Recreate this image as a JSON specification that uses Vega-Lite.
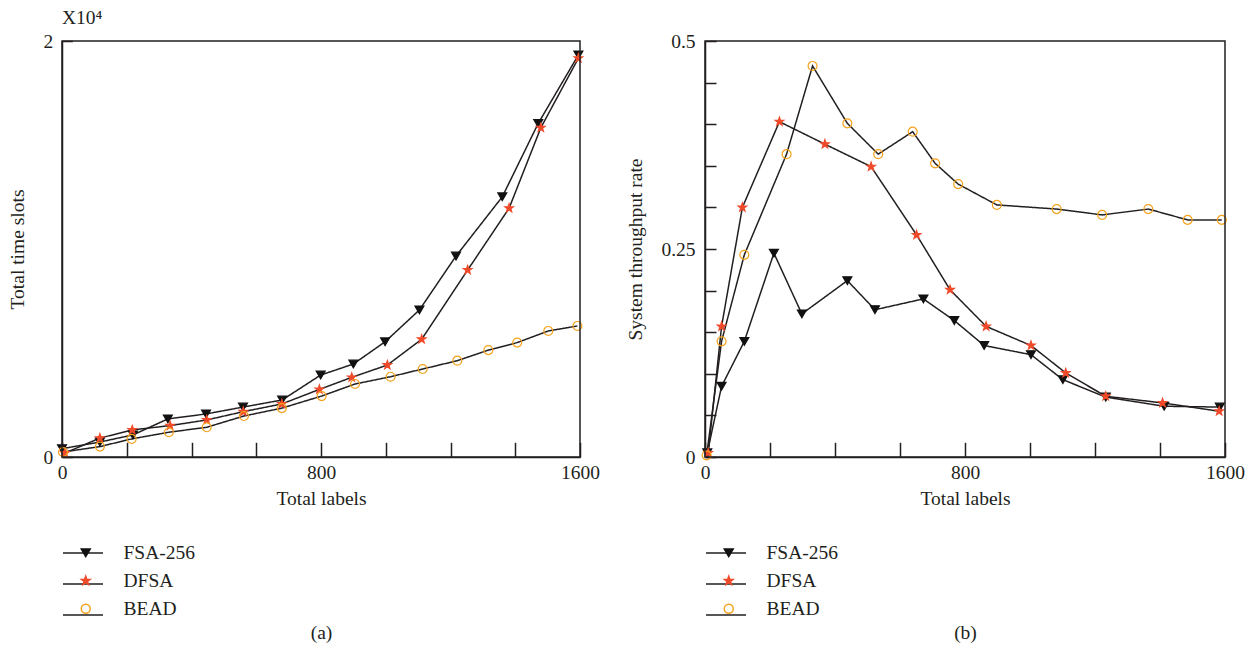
{
  "$schema": "https://vega.github.io/schema/vega-lite/v6.json",
  "autosize": {"type": "none"},
  "padding": {"left": 62, "top": 41, "right": 30, "bottom": 203},
  "width": 1163,
  "height": 416,
  "title": {"text": "X10⁴", "anchor": "start", "frame": "group", "offset": 3},
  "layer": [
    {
      "data": {"values": [
        {"series": "FSA-256", "labels": 0, "value": 0.04},
        {"series": "FSA-256", "labels": 117, "value": 0.072},
        {"series": "FSA-256", "labels": 219, "value": 0.106},
        {"series": "FSA-256", "labels": 327, "value": 0.183},
        {"series": "FSA-256", "labels": 445, "value": 0.207},
        {"series": "FSA-256", "labels": 559, "value": 0.24},
        {"series": "FSA-256", "labels": 680, "value": 0.274},
        {"series": "FSA-256", "labels": 799, "value": 0.394},
        {"series": "FSA-256", "labels": 900, "value": 0.447},
        {"series": "FSA-256", "labels": 998, "value": 0.554},
        {"series": "FSA-256", "labels": 1104, "value": 0.707},
        {"series": "FSA-256", "labels": 1217, "value": 0.966},
        {"series": "FSA-256", "labels": 1360, "value": 1.251},
        {"series": "FSA-256", "labels": 1471, "value": 1.604},
        {"series": "FSA-256", "labels": 1595, "value": 1.933},
        {"series": "DFSA", "labels": 9, "value": 0.019},
        {"series": "DFSA", "labels": 117, "value": 0.091},
        {"series": "DFSA", "labels": 217, "value": 0.13},
        {"series": "DFSA", "labels": 334, "value": 0.151},
        {"series": "DFSA", "labels": 447, "value": 0.178},
        {"series": "DFSA", "labels": 560, "value": 0.218},
        {"series": "DFSA", "labels": 679, "value": 0.255},
        {"series": "DFSA", "labels": 795, "value": 0.325},
        {"series": "DFSA", "labels": 895, "value": 0.383},
        {"series": "DFSA", "labels": 1005, "value": 0.442},
        {"series": "DFSA", "labels": 1111, "value": 0.566},
        {"series": "DFSA", "labels": 1253, "value": 0.899},
        {"series": "DFSA", "labels": 1381, "value": 1.196},
        {"series": "DFSA", "labels": 1479, "value": 1.583},
        {"series": "DFSA", "labels": 1595, "value": 1.917},
        {"series": "BEAD", "labels": 3, "value": 0.024},
        {"series": "BEAD", "labels": 117, "value": 0.05},
        {"series": "BEAD", "labels": 215, "value": 0.087},
        {"series": "BEAD", "labels": 330, "value": 0.119},
        {"series": "BEAD", "labels": 447, "value": 0.143},
        {"series": "BEAD", "labels": 562, "value": 0.197},
        {"series": "BEAD", "labels": 679, "value": 0.235},
        {"series": "BEAD", "labels": 802, "value": 0.293},
        {"series": "BEAD", "labels": 905, "value": 0.351},
        {"series": "BEAD", "labels": 1015, "value": 0.386},
        {"series": "BEAD", "labels": 1114, "value": 0.423},
        {"series": "BEAD", "labels": 1221, "value": 0.463},
        {"series": "BEAD", "labels": 1317, "value": 0.514},
        {"series": "BEAD", "labels": 1406, "value": 0.55},
        {"series": "BEAD", "labels": 1502, "value": 0.606},
        {"series": "BEAD", "labels": 1592, "value": 0.63}
      ]},
      "layer": [
        {
          "mark": {"type": "line", "color": "#231f20", "strokeWidth": 1.5},
          "encoding": {
            "x": {"field": "labels", "type": "quantitative", "scale": {"domain": [0, 1600], "nice": false, "range": [0, 518]},
              "axis": {"orient": "bottom", "values": [0, 200, 400, 600, 800, 1000, 1200, 1400, 1600], "format": "d",
                "labelExpr": "datum.value % 800 === 0 ? datum.label : ''",
                "tickSize": -14.7, "labelPadding": 20.7, "labelOverlap": false, "labelFlush": false,
                "title": ["Total labels", "(a)"], "titleLineHeight": 134, "titlePadding": 8}},
            "y": {"field": "value", "type": "quantitative", "scale": {"domain": [0, 2], "nice": false},
              "axis": {"orient": "left", "values": [0, 0.2, 0.4, 0.6, 0.8, 1, 1.2, 1.4, 1.6, 1.8, 2], "format": "d",
                "labelExpr": "datum.value % 1 === 0 ? datum.label : ''",
                "tickSize": -10.3, "labelPadding": 19.6, "labelOverlap": false, "labelFlush": false,
                "title": "Total time slots", "titlePadding": 15}},
            "strokeDash": {"field": "series", "type": "nominal",
              "sort": {"field": "value", "op": "max", "order": "descending"},
              "scale": {"range": [[1, 0], [1, 0], [1, 0]]},
              "legend": {"orient": "none", "legendX": 0, "legendY": 491, "title": null, "padding": 0,
                "symbolType": "stroke", "symbolSize": 1600, "symbolStrokeColor": "#231f20", "symbolStrokeWidth": 1.5,
                "labelExpr": "''", "rowPadding": -15, "zindex": 0}}
          }
        },
        {
          "mark": {"type": "point", "size": 80, "opacity": 1, "strokeWidth": 1.2},
          "encoding": {
            "x": {"field": "labels", "type": "quantitative"},
            "y": {"field": "value", "type": "quantitative"},
            "shape": {"field": "series", "type": "nominal",
              "scale": {"domain": ["FSA-256", "DFSA", "BEAD"], "range": ["triangle-down", "M0,-1L0.235,-0.324L0.951,-0.309L0.38,0.124L0.588,0.809L0,0.4L-0.588,0.809L-0.38,0.124L-0.951,-0.309L-0.235,-0.324Z", "circle"]},
              "legend": {"orient": "none", "legendX": 14, "legendY": 502, "title": null, "padding": 0, "symbolSize": 80, "labelOffset": 28, "rowPadding": 7, "zindex": 1}},
            "fill": {"field": "series", "type": "nominal",
              "scale": {"domain": ["FSA-256", "DFSA", "BEAD"], "range": ["#111111", "#ef4a2a", "transparent"]}},
            "stroke": {"field": "series", "type": "nominal",
              "scale": {"domain": ["FSA-256", "DFSA", "BEAD"], "range": ["#111111", "#ef4a2a", "#f5a21e"]}}
          }
        },
        {
          "data": {"values": [{}]},
          "mark": {"type": "rect", "filled": false, "color": "#231f20", "strokeWidth": 1.5},
          "encoding": {
            "x": {"datum": 0, "type": "quantitative"},
            "x2": {"datum": 1600},
            "y": {"datum": 0, "type": "quantitative"},
            "y2": {"datum": 2}
          }
        }
      ]
    },
    {
      "data": {"values": [
        {"series": "FSA-256", "labels": 7, "value": 0.005},
        {"series": "FSA-256", "labels": 51, "value": 0.085},
        {"series": "FSA-256", "labels": 121, "value": 0.139},
        {"series": "FSA-256", "labels": 212, "value": 0.245},
        {"series": "FSA-256", "labels": 298, "value": 0.172},
        {"series": "FSA-256", "labels": 438, "value": 0.212},
        {"series": "FSA-256", "labels": 523, "value": 0.177},
        {"series": "FSA-256", "labels": 672, "value": 0.19},
        {"series": "FSA-256", "labels": 767, "value": 0.164},
        {"series": "FSA-256", "labels": 859, "value": 0.134},
        {"series": "FSA-256", "labels": 1003, "value": 0.123},
        {"series": "FSA-256", "labels": 1101, "value": 0.093},
        {"series": "FSA-256", "labels": 1233, "value": 0.072},
        {"series": "FSA-256", "labels": 1413, "value": 0.061},
        {"series": "FSA-256", "labels": 1584, "value": 0.06},
        {"series": "DFSA", "labels": 10, "value": 0.005},
        {"series": "DFSA", "labels": 51, "value": 0.157},
        {"series": "DFSA", "labels": 115, "value": 0.3},
        {"series": "DFSA", "labels": 229, "value": 0.403},
        {"series": "DFSA", "labels": 369, "value": 0.376},
        {"series": "DFSA", "labels": 511, "value": 0.349},
        {"series": "DFSA", "labels": 651, "value": 0.267},
        {"series": "DFSA", "labels": 754, "value": 0.201},
        {"series": "DFSA", "labels": 865, "value": 0.157},
        {"series": "DFSA", "labels": 1003, "value": 0.134},
        {"series": "DFSA", "labels": 1110, "value": 0.101},
        {"series": "DFSA", "labels": 1233, "value": 0.073},
        {"series": "DFSA", "labels": 1408, "value": 0.065},
        {"series": "DFSA", "labels": 1582, "value": 0.055},
        {"series": "BEAD", "labels": 5, "value": 0.002},
        {"series": "BEAD", "labels": 51, "value": 0.139},
        {"series": "BEAD", "labels": 121, "value": 0.243},
        {"series": "BEAD", "labels": 251, "value": 0.364},
        {"series": "BEAD", "labels": 331, "value": 0.47},
        {"series": "BEAD", "labels": 438, "value": 0.401},
        {"series": "BEAD", "labels": 533, "value": 0.364},
        {"series": "BEAD", "labels": 639, "value": 0.391},
        {"series": "BEAD", "labels": 708, "value": 0.353},
        {"series": "BEAD", "labels": 779, "value": 0.328},
        {"series": "BEAD", "labels": 898, "value": 0.303},
        {"series": "BEAD", "labels": 1082, "value": 0.298},
        {"series": "BEAD", "labels": 1222, "value": 0.291},
        {"series": "BEAD", "labels": 1364, "value": 0.298},
        {"series": "BEAD", "labels": 1485, "value": 0.285},
        {"series": "BEAD", "labels": 1590, "value": 0.285}
      ]},
      "layer": [
        {
          "mark": {"type": "line", "color": "#231f20", "strokeWidth": 1.5},
          "encoding": {
            "x": {"field": "labels", "type": "quantitative", "scale": {"domain": [0, 1600], "nice": false, "range": [643, 1163]},
              "axis": {"orient": "bottom", "values": [0, 200, 400, 600, 800, 1000, 1200, 1400, 1600], "format": "d",
                "labelExpr": "datum.value % 800 === 0 ? datum.label : ''",
                "tickSize": -14.7, "labelPadding": 20.7, "labelOverlap": false, "labelFlush": false,
                "title": ["Total labels", "(b)"], "titleLineHeight": 134, "titlePadding": 8}},
            "y": {"field": "value", "type": "quantitative", "scale": {"domain": [0, 0.5], "nice": false},
              "axis": {"orient": "left", "offset": -643, "values": [0, 0.05, 0.1, 0.15, 0.2, 0.25, 0.3, 0.35, 0.4, 0.45, 0.5],
                "labelExpr": "(datum.value === 0 || datum.value === 0.25 || datum.value === 0.5) ? '' + datum.value : ''",
                "tickSize": -11, "labelPadding": 21, "labelOverlap": false, "labelFlush": false,
                "title": "System throughput rate", "titlePadding": 15}},
            "strokeDash": {"field": "series", "type": "nominal",
              "sort": {"field": "value", "op": "max", "order": "ascending"},
              "scale": {"range": [[1, 0], [1, 0], [1, 0]]},
              "legend": {"orient": "none", "legendX": 643, "legendY": 491, "title": null, "padding": 0,
                "symbolType": "stroke", "symbolSize": 1600, "symbolStrokeColor": "#231f20", "symbolStrokeWidth": 1.5,
                "labelExpr": "''", "rowPadding": -15, "zindex": 0}}
          }
        },
        {
          "mark": {"type": "point", "size": 80, "opacity": 1, "strokeWidth": 1.2},
          "encoding": {
            "x": {"field": "labels", "type": "quantitative"},
            "y": {"field": "value", "type": "quantitative"},
            "shape": {"field": "series", "type": "nominal", "sort": "descending",
              "scale": {"range": ["triangle-down", "M0,-1L0.235,-0.324L0.951,-0.309L0.38,0.124L0.588,0.809L0,0.4L-0.588,0.809L-0.38,0.124L-0.951,-0.309L-0.235,-0.324Z", "circle"]},
              "legend": {"orient": "none", "legendX": 657, "legendY": 502, "title": null, "padding": 0, "symbolSize": 80, "labelOffset": 28, "rowPadding": 7, "zindex": 1}},
            "fill": {"field": "series", "type": "nominal", "sort": "descending",
              "scale": {"range": ["#111111", "#ef4a2a", "transparent"]}},
            "stroke": {"field": "series", "type": "nominal", "sort": "descending",
              "scale": {"range": ["#111111", "#ef4a2a", "#f5a21e"]}}
          }
        },
        {
          "data": {"values": [{}]},
          "mark": {"type": "rect", "filled": false, "color": "#231f20", "strokeWidth": 1.5},
          "encoding": {
            "x": {"datum": 0, "type": "quantitative"},
            "x2": {"datum": 1600},
            "y": {"datum": 0, "type": "quantitative"},
            "y2": {"datum": 0.5}
          }
        }
      ]
    }
  ],
  "resolve": {
    "scale": {"x": "independent", "y": "independent", "shape": "independent", "fill": "independent", "stroke": "independent", "strokeDash": "independent"},
    "axis": {"x": "independent", "y": "independent"}
  },
  "config": {
    "font": "Liberation Serif",
    "view": {"stroke": null},
    "axis": {"grid": false, "domainColor": "#231f20", "domainWidth": 1.5, "tickColor": "#231f20", "tickWidth": 1.5,
      "labelColor": "#231f20", "titleColor": "#231f20", "labelFontSize": 19.5, "titleFontSize": 19.5,
      "titleFontWeight": "normal", "labelFont": "Liberation Serif", "titleFont": "Liberation Serif"},
    "legend": {"labelFont": "Liberation Serif", "labelFontSize": 19.5, "labelColor": "#231f20"},
    "title": {"font": "Liberation Serif", "fontWeight": "normal", "fontSize": 19.5, "color": "#231f20"}
  }
}
